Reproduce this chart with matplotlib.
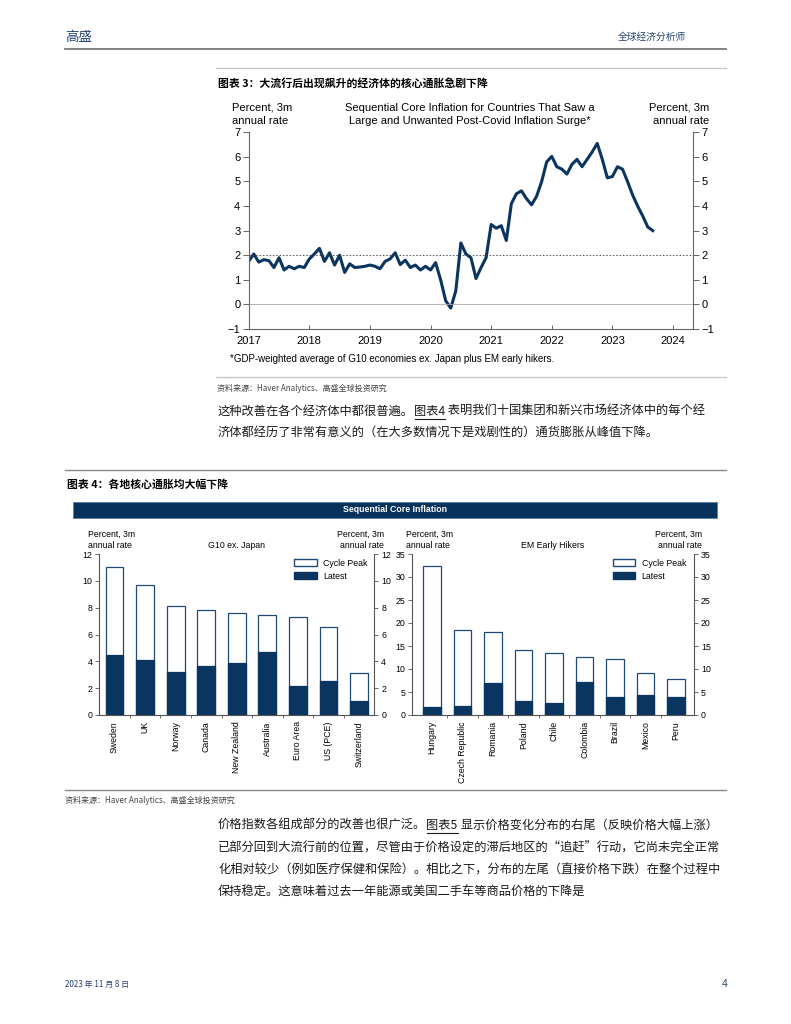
import matplotlib
matplotlib.use("Agg")
import matplotlib.pyplot as plt
from matplotlib.lines import Line2D
from matplotlib.patches import Rectangle, Patch

# ---- data ----
years = list(range(2017, 2025))
core_infl = [
    1.75, 2.05, 1.72, 1.82, 1.78, 1.50, 1.90, 1.40, 1.55, 1.45, 1.55, 1.50,   # 2017
    1.85, 2.05, 2.28, 1.75, 2.10, 1.60, 2.00, 1.30, 1.65, 1.50, 1.52, 1.55,   # 2018
    1.60, 1.55, 1.45, 1.75, 1.85, 2.10, 1.62, 1.80, 1.50, 1.60, 1.40, 1.55,   # 2019
    1.40, 1.70, 1.00, 0.15, -0.15, 0.55, 2.50, 2.05, 1.90, 1.05, 1.50, 1.90,  # 2020
    3.25, 3.10, 3.20, 2.60, 4.10, 4.50, 4.62, 4.30, 4.05, 4.40, 5.00, 5.80,   # 2021
    6.02, 5.60, 5.50, 5.30, 5.70, 5.90, 5.60, 5.90, 6.20, 6.55, 5.90, 5.15,   # 2022
    5.20, 5.60, 5.50, 5.00, 4.45, 4.00, 3.60, 3.15, 3.00,                     # 2023
]
months = [2017 + i / 12 for i in range(len(core_infl))]

g10_names = ["Sweden", "UK", "Norway", "Canada", "New Zealand", "Australia",
             "Euro Area", "US (PCE)", "Switzerland"]
g10_peak = [11.0, 9.7, 8.1, 7.8, 7.58, 7.45, 7.3, 6.58, 3.1]
g10_latest = [4.45, 4.07, 3.2, 3.68, 3.88, 4.72, 2.19, 2.51, 1.02]

em_names = ["Hungary", "Czech Republic", "Romania", "Poland", "Chile", "Colombia",
            "Brazil", "Mexico", "Peru"]
em_peak = [32.3, 18.4, 18.1, 14.1, 13.5, 12.6, 12.2, 9.1, 7.8]
em_latest = [1.67, 2.0, 7.0, 3.0, 2.55, 7.2, 4.0, 4.35, 3.85]

NAVY = "#0b3561"
HEAD = "#24446f"
GRAY = "#666666"
SANS = ["Liberation Sans", "DejaVu Sans"]
CJK = ["Noto Sans CJK SC", "DejaVu Sans"]

W, H = 791, 1024
fig = plt.figure(figsize=(W / 100, H / 100), dpi=100)
renderer = fig.canvas.get_renderer()


def fx(x):
    return x / W


def fy(y):
    return 1 - y / H


def hline(y, x0, x1, color, lw):
    fig.add_artist(Line2D([fx(x0), fx(x1)], [fy(y), fy(y)], transform=fig.transFigure,
                          color=color, lw=lw))


def text_line(x, y, parts, size, **kw):
    # parts: list of (text, underline) drawn one after another
    cur = x
    for s, ul in parts:
        t = fig.text(fx(cur), fy(y), s, fontsize=size, family=CJK, ha="left", va="center",
                     color="#1a1a1a", **kw)
        bb = t.get_window_extent(renderer)
        if ul:
            hline(y + 7.5, cur + 1, bb.x1, "#1a1a1a", 0.8)
        cur = bb.x1


# ---- header ----
fig.text(fx(65), fy(37), "高盛", fontsize=9.7, family=CJK, color=HEAD, va="center")
fig.text(fx(686), fy(37), "全球经济分析师", fontsize=7, family=CJK, color=HEAD, va="center", ha="right")
hline(49, 65, 726, "#7a7a7a", 1.3)
hline(68, 216, 726, "#c8c8c8", 1.0)

# ---- chart 3 ----
fig.text(fx(218), fy(83), "图表 3：大流行后出现飙升的经济体的核心通胀急剧下降", fontsize=7.8,
         family=CJK, weight="bold", va="center")

ax3 = fig.add_axes([fx(248.7), fy(329), (693 - 248.7) / W, (329 - 132.3) / H])
ax3.plot(months, core_infl, color=NAVY, lw=2.2, solid_joinstyle="round")
ax3.axhline(2, color="#444444", lw=0.6, ls=(0, (2, 2)))
ax3.axhline(0, color="#aaaaaa", lw=0.6)
ax3.set_xlim(2017, 2024.33)
ax3.set_ylim(-1, 7)
ax3.set_xticks(years)
ax3.set_xticklabels([str(y) for y in years])
ax3.set_yticks(range(-1, 8))
ax3.set_yticklabels(["\u22121"] + [str(v) for v in range(0, 8)])
ax3.spines["top"].set_visible(False)
for s in ["left", "right", "bottom"]:
    ax3.spines[s].set_color(GRAY)
    ax3.spines[s].set_linewidth(0.8)
ax3.tick_params(axis="y", direction="out", length=4, width=0.7, color=GRAY, labelsize=8,
                pad=2, left=True, right=True, labelright=True)
ax3.tick_params(axis="x", direction="in", length=3, width=0.7, color=GRAY, labelsize=8, pad=5)
for lab in ax3.get_xticklabels() + ax3.get_yticklabels():
    lab.set_family(SANS)

fig.text(fx(232), fy(108), "Percent, 3m", fontsize=8, family=SANS, va="center")
fig.text(fx(232), fy(121), "annual rate", fontsize=8, family=SANS, va="center")
fig.text(fx(709), fy(108), "Percent, 3m", fontsize=8, family=SANS, va="center", ha="right")
fig.text(fx(709), fy(121), "annual rate", fontsize=8, family=SANS, va="center", ha="right")
fig.text(fx(470), fy(108), "Sequential Core Inflation for Countries That Saw a", fontsize=8,
         family=SANS, va="center", ha="center")
fig.text(fx(470), fy(121), "Large and Unwanted Post-Covid Inflation Surge*", fontsize=8,
         family=SANS, va="center", ha="center")
fig.text(fx(230), fy(359), "*GDP-weighted average of G10 economies ex. Japan plus EM early hikers.",
         fontsize=7, family=SANS, va="center")

hline(377, 216, 726, "#c8c8c8", 1.0)
fig.text(fx(217), fy(388), "资料来源：Haver Analytics、高盛全球投资研究", fontsize=5.8, family=CJK,
         color="#444444", va="center")

text_line(218, 411, [("这种改善在各个经济体中都很普遍。", False), ("图表4", True),
                     (" 表明我们十国集团和新兴市场经济体中的每个经", False)], 8.8)
text_line(218, 432, [("济体都经历了非常有意义的（在大多数情况下是戏剧性的）通货膨胀从峰值下降。", False)], 8.8)

# ---- chart 4 ----
hline(470, 65, 726, "#8a8a8a", 1.0)
fig.text(fx(67), fy(484), "图表 4：各地核心通胀均大幅下降", fontsize=7.8, family=CJK,
         weight="bold", va="center")
fig.add_artist(Rectangle((fx(73), fy(517.7)), (717 - 73) / W, 16 / H, transform=fig.transFigure,
                         facecolor="#07325c", edgecolor="#5a7ea3", lw=0.6))
fig.text(fx(395), fy(509.5), "Sequential Core Inflation", fontsize=6.3, family=SANS,
         weight="bold", color="white", va="center", ha="center")


def bar_panel(left, width, names, peak, latest, ymax, step, xlim, title, tx, lx, rx, leg_x):
    ax = fig.add_axes([fx(left), fy(715), width / W, 161 / H])
    xs = list(range(len(names)))
    ax.bar(xs, peak, width=0.58, facecolor="white", edgecolor="#1f4a78", lw=0.9)
    ax.bar(xs, latest, width=0.58, facecolor=NAVY, edgecolor=NAVY, lw=0.9)
    ax.set_xlim(*xlim)
    ax.set_ylim(0, ymax)
    ax.set_yticks(range(0, ymax + 1, step))
    ax.set_xticks(xs)
    ax.set_xticklabels(names, rotation=90, va="top", ha="center")
    ax.set_xticks([i + 0.5 for i in xs[:-1]], minor=True)
    ax.spines["top"].set_visible(False)
    for s in ["left", "right", "bottom"]:
        ax.spines[s].set_color("#555555")
        ax.spines[s].set_linewidth(0.8)
    ax.tick_params(axis="y", direction="out", length=3, width=0.6, color="#555555",
                   labelsize=6.3, pad=2, left=True, right=True, labelright=True)
    ax.tick_params(axis="x", which="major", length=0, labelsize=6.3, pad=4.5)
    ax.tick_params(axis="x", which="minor", direction="out", length=2.5, width=0.6, color="#555555")
    for lab in ax.get_xticklabels() + ax.get_yticklabels():
        lab.set_family(SANS)
    ax.legend(handles=[Patch(facecolor="white", edgecolor="#1f4a78", label="Cycle Peak"),
                       Patch(facecolor=NAVY, edgecolor=NAVY, label="Latest")],
              loc="upper right", bbox_to_anchor=(leg_x, 0.97), frameon=False,
              prop={"family": SANS, "size": 6.3}, handlelength=2.6, handleheight=0.85,
              labelspacing=0.45, handletextpad=0.7, borderaxespad=0, borderpad=0)
    fig.text(fx(lx), fy(534), "Percent, 3m", fontsize=6.3, family=SANS, va="center")
    fig.text(fx(lx), fy(545), "annual rate", fontsize=6.3, family=SANS, va="center")
    fig.text(fx(rx), fy(534), "Percent, 3m", fontsize=6.3, family=SANS, va="center", ha="right")
    fig.text(fx(rx), fy(545), "annual rate", fontsize=6.3, family=SANS, va="center", ha="right")
    fig.text(fx(tx), fy(545), title, fontsize=6.3, family=SANS, va="center", ha="center")
    return ax


bar_panel(99.3, 275, g10_names, g10_peak, g10_latest, 12, 2, (-0.5, 8.5),
          "G10 ex. Japan", 237, 88, 384, 0.975)
bar_panel(412, 282, em_names, em_peak, em_latest, 35, 5, (-0.66, 8.59),
          "EM Early Hikers", 553, 406, 702, 0.972)

hline(790, 65, 726, "#8a8a8a", 1.0)
fig.text(fx(65), fy(800), "资料来源：Haver Analytics、高盛全球投资研究", fontsize=5.8, family=CJK,
         color="#444444", va="center")

text_line(218, 825, [("价格指数各组成部分的改善也很广泛。", False), ("图表5", True),
                     (" 显示价格变化分布的右尾（反映价格大幅上涨）", False)], 8.8)
text_line(218, 848, [("已部分回到大流行前的位置，尽管由于价格设定的滞后地区的“追赶”行动，它尚未完全正常", False)], 8.8)
text_line(218, 870, [("化相对较少（例如医疗保健和保险）。相比之下，分布的左尾（直接价格下跌）在整个过程中", False)], 8.8)
text_line(218, 891, [("保持稳定。这意味着过去一年能源或美国二手车等商品价格的下降是", False)], 8.8)

# ---- footer ----
fig.text(fx(65), fy(984), "2023 年 11 月 8 日", fontsize=5.8, family=CJK, color=HEAD, va="center")
fig.text(fx(727), fy(984), "4", fontsize=7.5, family=SANS, color=HEAD, va="center", ha="right")

fig.savefig("out.png", dpi=100)
